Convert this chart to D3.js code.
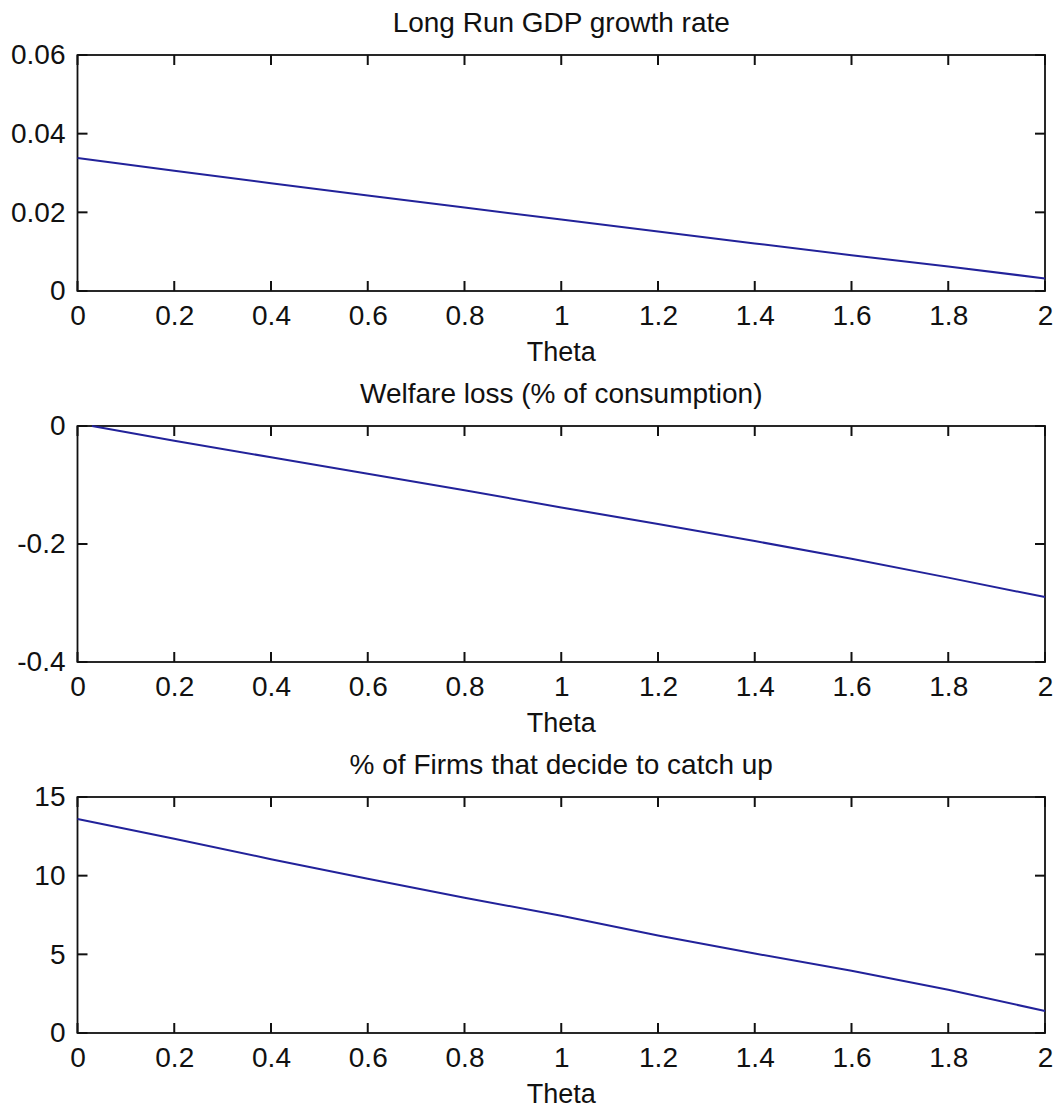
<!DOCTYPE html>
<html>
<head>
<meta charset="utf-8">
<script src="https://cdn.jsdelivr.net/npm/d3@7"></script>
<style>
  body { margin: 0; background: #fff; }
  svg text { font-family: "Liberation Sans", Arial, sans-serif; fill: #111; }
  line.tk { stroke: #111; stroke-width: 2px; }
</style>
</head>
<body>
<svg id="chart"></svg>
<script>
var width = 1057
var height = 1115

// theta grid
var theta = [0, 0.2, 0.4, 0.6, 0.8, 1.0, 1.2, 1.4, 1.6, 1.8, 2.0]
var thetaWelfare = [0.03, 0.2, 0.4, 0.6, 0.8, 1.0, 1.2, 1.4, 1.6, 1.8, 2.0]

var gdpGrowth = [0.0338, 0.0306, 0.0274, 0.0243, 0.0212, 0.0182, 0.0151, 0.0121, 0.0091, 0.0062, 0.0032]
var welfareLoss = [0, -0.025, -0.053, -0.081, -0.109, -0.138, -0.166, -0.195, -0.225, -0.257, -0.290]
var firmsCatchUp = [13.6, 12.35, 11.05, 9.8, 8.6, 7.45, 6.2, 5.05, 3.95, 2.75, 1.4]

var xTicks = ["0", "0.2", "0.4", "0.6", "0.8", "1", "1.2", "1.4", "1.6", "1.8", "2"]

var panels = [
  { title: "Long Run GDP growth rate", xs: theta, ys: gdpGrowth,
    domain: [0, 0.06], ticks: ["0", "0.02", "0.04", "0.06"] },
  { title: "Welfare loss (% of consumption)", xs: thetaWelfare, ys: welfareLoss,
    domain: [-0.4, 0], ticks: ["-0.4", "-0.2", "0"] },
  { title: "% of Firms that decide to catch up", xs: theta, ys: firmsCatchUp,
    domain: [0, 15], ticks: ["0", "5", "10", "15"] }
]

var margin = { left: 77.5, right: 12, top: 55 }
var panelH = 236
var panelStep = 371
var tickLen = 10
var innerW = width - margin.left - margin.right

var svg = d3.select("#chart")
  .attr("width", width)
  .attr("height", height)

var x = d3.scaleLinear().domain([0, 2]).range([0, innerW])

panels.forEach(function (p, i) {
  var g = svg.append("g")
    .attr("transform", "translate(" + margin.left + "," + (margin.top + i * panelStep) + ")")

  var y = d3.scaleLinear().domain(p.domain).range([panelH, 0])

  // tick labels through d3 axes
  g.append("g")
    .attr("transform", "translate(0," + panelH + ")")
    .call(d3.axisBottom(x).tickValues(xTicks.map(Number)).tickFormat(function (d, j) { return xTicks[j] })
      .tickSize(0).tickPadding(14))
  g.append("g")
    .call(d3.axisLeft(y).tickValues(p.ticks.map(Number)).tickFormat(function (d, j) { return p.ticks[j] })
      .tickSize(0).tickPadding(12))

  g.selectAll(".domain").remove()
  g.selectAll(".tick text").attr("font-size", 28).attr("fill", "#111")

  // inward tick marks on all four sides (matlab box)
  var xt = xTicks.map(Number)
  var yt = p.ticks.map(Number)
  g.selectAll("line.xb").data(xt).enter().append("line").attr("class", "tk")
    .attr("x1", d => x(d)).attr("x2", d => x(d)).attr("y1", panelH).attr("y2", panelH - tickLen)
  g.selectAll("line.xt").data(xt).enter().append("line").attr("class", "tk")
    .attr("x1", d => x(d)).attr("x2", d => x(d)).attr("y1", 0).attr("y2", tickLen)
  g.selectAll("line.yl").data(yt).enter().append("line").attr("class", "tk")
    .attr("x1", 0).attr("x2", tickLen).attr("y1", d => y(d)).attr("y2", d => y(d))
  g.selectAll("line.yr").data(yt).enter().append("line").attr("class", "tk")
    .attr("x1", innerW).attr("x2", innerW - tickLen).attr("y1", d => y(d)).attr("y2", d => y(d))

  // frame
  g.append("rect")
    .attr("width", innerW)
    .attr("height", panelH)
    .attr("fill", "none")
    .attr("stroke", "#111")
    .attr("stroke-width", 1.8)

  var line = d3.line()
    .x(function (d) { return x(d[0]) })
    .y(function (d) { return y(d[1]) })

  g.append("path")
    .datum(d3.zip(p.xs, p.ys))
    .attr("d", line)
    .attr("fill", "none")
    .attr("stroke", "#22229a")
    .attr("stroke-width", 2)

  g.append("text")
    .attr("x", innerW / 2)
    .attr("y", -23)
    .attr("text-anchor", "middle")
    .attr("font-size", 28)
    .text(p.title)

  g.append("text")
    .attr("x", innerW / 2)
    .attr("y", panelH + 70)
    .attr("text-anchor", "middle")
    .attr("font-size", 27)
    .text("Theta")
})
</script>
</body>
</html>
